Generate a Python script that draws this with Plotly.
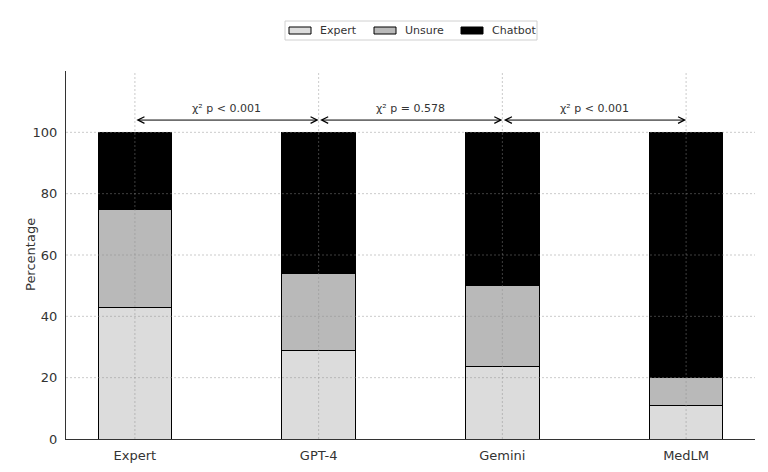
import plotly.graph_objects as go

categories = ["Expert", "GPT-4", "Gemini", "MedLM"]
expert_vals = [43.0, 28.7, 23.5, 11.0]
unsure_vals = [32.0, 25.4, 26.7, 9.0]
chatbot_vals = [25.0, 45.9, 49.8, 80.0]
p_labels = ["χ² p < 0.001", "χ² p = 0.578", "χ² p < 0.001"]
series_names = ["Expert", "Unsure", "Chatbot"]
series_colors = ["#dcdcdc", "#b9b9b9", "#000000"]
y_ticks = [0, 20, 40, 60, 80, 100]

FONT = "DejaVu Sans"
TXT = "#333333"
W, H = 768, 472
L, R, T, B = 66, 13, 71, 33
PW, PH = W - L - R, H - T - B


def px_x(px):
    return (px - L) / PW


def px_y(py):
    return (H - B - py) / PH


x_idx = list(range(len(categories)))

fig = go.Figure()
for name, vals, col in zip(series_names, [expert_vals, unsure_vals, chatbot_vals], series_colors):
    fig.add_trace(go.Bar(
        x=x_idx, y=vals, name=name, width=0.4, showlegend=False,
        marker=dict(color=col, line=dict(color="black", width=1)),
    ))

# gridlines drawn above the bars (as in reference)
grid_col = "rgba(140,140,140,0.45)"
grid_dash = "2px,2px"
for v in y_ticks[1:]:
    fig.add_shape(type="line", xref="paper", yref="y", x0=0, x1=1, y0=v, y1=v,
                  line=dict(color=grid_col, width=1, dash=grid_dash), layer="above")
for i in x_idx:
    fig.add_shape(type="line", xref="x", yref="paper", x0=i, x1=i, y0=0, y1=1,
                  line=dict(color=grid_col, width=1, dash=grid_dash), layer="above")

arrow_y = 104
text_y = 107.8
for i, lab in enumerate(p_labels):
    fig.add_annotation(x=i + 1, y=arrow_y, ax=i, ay=arrow_y, xref="x", yref="y",
                       axref="x", ayref="y", text="", showarrow=True,
                       arrowhead=5, startarrowhead=5, arrowside="end+start",
                       arrowsize=1.3, startarrowsize=1.3, arrowwidth=1,
                       arrowcolor="black")
    fig.add_annotation(x=i + 0.5, y=text_y, xref="x", yref="y", text=lab,
                       showarrow=False, font=dict(family=FONT, size=11, color=TXT))

# y-axis title
fig.add_annotation(x=px_x(30), y=0.5, xref="paper", yref="paper", text="Percentage",
                   textangle=-90, showarrow=False, xanchor="center", yanchor="middle",
                   font=dict(family=FONT, size=13, color=TXT))

# custom legend (rectangular patches like reference)
fig.add_shape(type="rect", xref="paper", yref="paper",
              x0=px_x(285), x1=px_x(537), y0=px_y(40), y1=px_y(21),
              line=dict(color="#d0d0d0", width=1), fillcolor="white", layer="above")
patch_x = [289, 374, 461]
for name, col, px0 in zip(series_names, series_colors, patch_x):
    fig.add_shape(type="rect", xref="paper", yref="paper",
                  x0=px_x(px0), x1=px_x(px0 + 22), y0=px_y(34), y1=px_y(27),
                  line=dict(color="black", width=1), fillcolor=col, layer="above")
    fig.add_annotation(x=px_x(px0 + 29), y=px_y(30.5), xref="paper", yref="paper",
                       text=name, showarrow=False, xanchor="left", yanchor="middle",
                       font=dict(family=FONT, size=11, color=TXT))

fig.update_layout(
    barmode="stack",
    width=W, height=H,
    margin=dict(l=L, r=R, t=T, b=B, autoexpand=False),
    plot_bgcolor="white", paper_bgcolor="white",
    font=dict(family=FONT, size=13, color=TXT),
    showlegend=False,
)
fig.update_xaxes(
    tickmode="array", tickvals=x_idx, ticktext=categories,
    range=[-0.375, 3.375], showline=True, linecolor="#333333", linewidth=1,
    showgrid=False, ticks="", ticklabelstandoff=4, automargin=False,
    tickfont=dict(size=13, color=TXT), zeroline=False,
)
fig.update_yaxes(
    range=[0, 120], tickmode="array", tickvals=y_ticks,
    showline=True, linecolor="#333333", linewidth=1,
    showgrid=False, ticks="", ticklabelstandoff=5, automargin=False,
    tickfont=dict(size=13, color=TXT), zeroline=False,
)

fig.write_html("out.html", post_script="document.body.style.margin='0';",
               config={"displayModeBar": False})
